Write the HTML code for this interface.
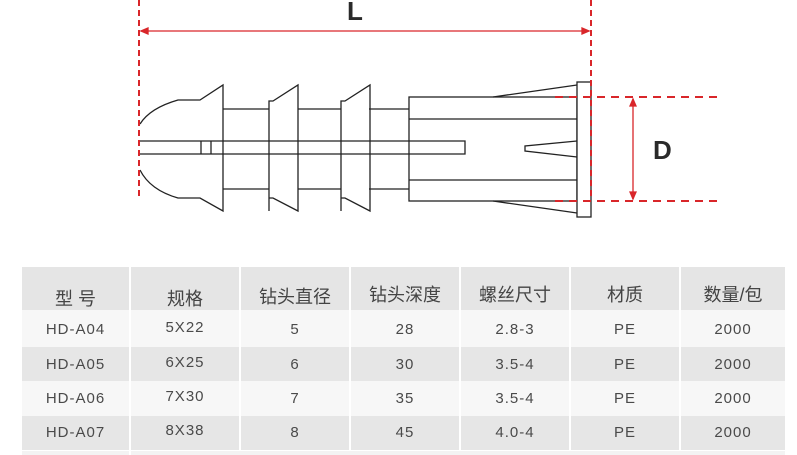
<!DOCTYPE html>
<html><head><meta charset="utf-8"><style>
body{margin:0;width:797px;height:455px;background:#fff;overflow:hidden;position:relative;font-family:"Liberation Sans","Noto Sans CJK SC",sans-serif}
svg{position:absolute;left:0;top:0}
.c{position:absolute;text-align:center;color:#4a4a4a;font-size:15px;letter-spacing:1px}
.h{color:#444;font-size:18px;letter-spacing:0}
</style></head><body>
<svg width="797" height="260" viewBox="0 0 797 260">
<g fill="none" stroke="#222" stroke-width="1.3">
<path d="M140,124 Q150,108 178,100 L200,100 L223,85 L223,211 L200,198 L178,198 Q150,190 140,170"/>
<path d="M223,109 H269 M223,189 H269 M298,109 H341 M298,189 H341 M369,109 H409 M369,189 H409"/>
<path d="M269,211 V101 H273 L298,85 V211 L273,198 H269 Z"/>
<path d="M341,211 V101 H345 L370,85 V211 L345,198 H341 Z"/>
<rect x="409" y="97" width="168" height="104"/>
<path d="M409,119 H577 M409,180 H577"/>
<path d="M493,97 L577,85 M493,201 L577,213"/>
<path d="M577,141 L525,146 L525,151 L577,157"/>
<rect x="577" y="82" width="14" height="135" fill="#fff"/>
<path d="M140,141 H465 V154 H140"/>
<path d="M201,141 V154 M211,141 V154"/>
</g>
<g stroke="#d9262a" stroke-width="2" fill="none">
<path d="M139,0 V200 M591,0 V200" stroke-dasharray="6,4"/>
<path d="M555,97 H720 M555,201 H720" stroke-dasharray="8,6"/>
</g>
<g stroke="#d9262a" stroke-width="1.3" fill="#d9262a">
<path d="M141,31 H589" fill="none"/>
<path d="M141,31 L148,28 L148,34 Z M589,31 L582,28 L582,34 Z"/>
<path d="M633,99 V199" fill="none"/>
<path d="M633,99 L630,106 L636,106 Z M633,199 L630,192 L636,192 Z"/>
</g>
<text x="347" y="20" font-family="Liberation Sans" font-weight="bold" font-size="26" fill="#2a2a2a">L</text>
<text x="653" y="159" font-family="Liberation Sans" font-weight="bold" font-size="26" fill="#2a2a2a">D</text>
</svg>
<div style="position:absolute;left:22px;top:267px;width:763px;height:43px;background:#e5e5e5"></div>
<div style="position:absolute;left:22px;top:310px;width:763px;height:37px;background:#f7f7f7"></div>
<div style="position:absolute;left:22px;top:347px;width:763px;height:34px;background:#e6e6e6"></div>
<div style="position:absolute;left:22px;top:381px;width:763px;height:35px;background:#f7f7f7"></div>
<div style="position:absolute;left:22px;top:416px;width:763px;height:34px;background:#e6e6e6"></div>
<div style="position:absolute;left:22px;top:451px;width:763px;height:4px;background:#f3f3f3"></div>
<div style="position:absolute;left:129px;top:267px;width:2px;height:188px;background:#fff"></div>
<div style="position:absolute;left:239px;top:267px;width:2px;height:183px;background:#fff"></div>
<div style="position:absolute;left:349px;top:267px;width:2px;height:183px;background:#fff"></div>
<div style="position:absolute;left:459px;top:267px;width:2px;height:183px;background:#fff"></div>
<div style="position:absolute;left:569px;top:267px;width:2px;height:183px;background:#fff"></div>
<div style="position:absolute;left:679px;top:267px;width:2px;height:183px;background:#fff"></div>
<div class="c h" style="left:22px;top:285px;width:107px">型 号</div>
<div class="c h" style="left:131px;top:285px;width:108px">规格</div>
<div class="c h" style="left:241px;top:283px;width:108px">钻头直径</div>
<div class="c h" style="left:351px;top:281px;width:108px">钻头深度</div>
<div class="c h" style="left:461px;top:281px;width:108px">螺丝尺寸</div>
<div class="c h" style="left:571px;top:281px;width:108px">材质</div>
<div class="c h" style="left:681px;top:281px;width:104px">数量/包</div>

<div class="c" style="left:22px;top:321px;width:107px">HD-A04</div>
<div class="c" style="left:131px;top:319px;width:108px">5X22</div>
<div class="c" style="left:241px;top:321px;width:108px">5</div>
<div class="c" style="left:351px;top:321px;width:108px">28</div>
<div class="c" style="left:461px;top:321px;width:108px">2.8-3</div>
<div class="c" style="left:571px;top:321px;width:108px">PE</div>
<div class="c" style="left:681px;top:321px;width:104px">2000</div>

<div class="c" style="left:22px;top:356px;width:107px">HD-A05</div>
<div class="c" style="left:131px;top:354px;width:108px">6X25</div>
<div class="c" style="left:241px;top:356px;width:108px">6</div>
<div class="c" style="left:351px;top:356px;width:108px">30</div>
<div class="c" style="left:461px;top:356px;width:108px">3.5-4</div>
<div class="c" style="left:571px;top:356px;width:108px">PE</div>
<div class="c" style="left:681px;top:356px;width:104px">2000</div>

<div class="c" style="left:22px;top:390px;width:107px">HD-A06</div>
<div class="c" style="left:131px;top:388px;width:108px">7X30</div>
<div class="c" style="left:241px;top:390px;width:108px">7</div>
<div class="c" style="left:351px;top:390px;width:108px">35</div>
<div class="c" style="left:461px;top:390px;width:108px">3.5-4</div>
<div class="c" style="left:571px;top:390px;width:108px">PE</div>
<div class="c" style="left:681px;top:390px;width:104px">2000</div>

<div class="c" style="left:22px;top:424px;width:107px">HD-A07</div>
<div class="c" style="left:131px;top:422px;width:108px">8X38</div>
<div class="c" style="left:241px;top:424px;width:108px">8</div>
<div class="c" style="left:351px;top:424px;width:108px">45</div>
<div class="c" style="left:461px;top:424px;width:108px">4.0-4</div>
<div class="c" style="left:571px;top:424px;width:108px">PE</div>
<div class="c" style="left:681px;top:424px;width:104px">2000</div>
</body></html>
